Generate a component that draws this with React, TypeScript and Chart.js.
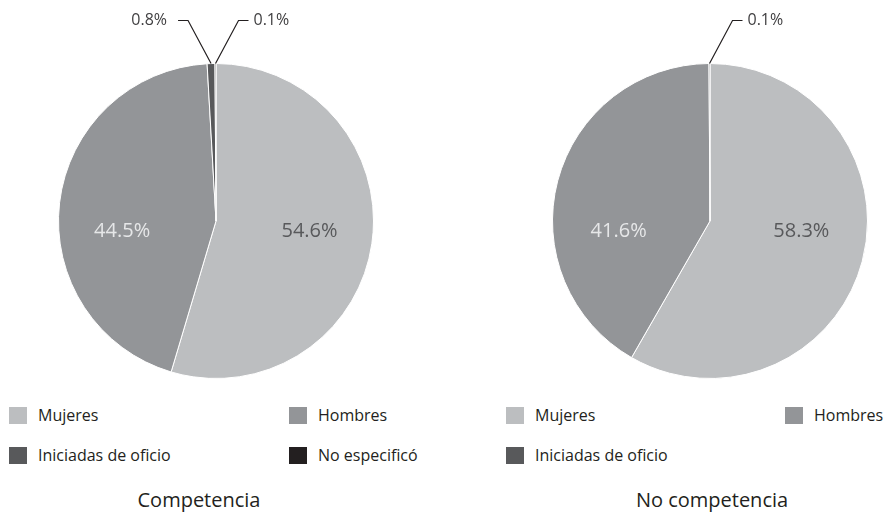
import React, { useEffect, useRef } from "react";
import { Chart, registerables } from "chart.js";

Chart.register(...registerables);

const categoriesLeft = ["Mujeres", "Hombres", "Iniciadas de oficio", "No especificó"];
const valuesLeft = [54.6, 44.5, 0.8, 0.1];
const categoriesRight = ["Mujeres", "Hombres", "Iniciadas de oficio"];
const valuesRight = [58.3, 41.6, 0.1];
const titles = ["Competencia", "No competencia"];

const sliceColors = ["#bcbec0", "#939598", "#58595b", "#231f20"];
const innerTextColors = ["#58595b", "#e6e7e8", "#ffffff", "#ffffff"];
const FONT = "'Open Sans', 'Noto Sans', sans-serif";

const labelPlugin = {
  id: "pieLabels",
  afterDatasetsDraw(chart: any, _args: any, opts: any) {
    const ctx = chart.ctx;
    const meta = chart.getDatasetMeta(0);
    const data = chart.data.datasets[0].data as number[];
    const sides: number[] = opts.sides || [];
    let smallIdx = 0;
    ctx.save();
    meta.data.forEach((arc: any, i: number) => {
      const { x, y, startAngle, endAngle, outerRadius } = arc.getProps(
        ["x", "y", "startAngle", "endAngle", "outerRadius"],
        true
      );
      const mid = (startAngle + endAngle) / 2;
      const v = data[i];
      const text = v.toFixed(1) + "%";
      if (v >= 5) {
        const lx = x + Math.cos(mid) * outerRadius * 0.6;
        ctx.font = `20px ${FONT}`;
        ctx.fillStyle = innerTextColors[i];
        ctx.textAlign = "center";
        ctx.textBaseline = "middle";
        ctx.fillText(text, lx, y + 10);
      } else {
        const side = sides[smallIdx++] ?? 1;
        const ax = x + Math.cos(mid) * outerRadius;
        const ay = y + Math.sin(mid) * outerRadius;
        const ex = ax + side * 23;
        const ey = y - outerRadius - 43;
        const hx = ex + side * 10;
        ctx.beginPath();
        ctx.moveTo(ax, ay);
        ctx.lineTo(ex, ey);
        ctx.lineTo(hx, ey);
        ctx.strokeStyle = "#231f20";
        ctx.lineWidth = 1.2;
        ctx.stroke();
        ctx.font = `16px ${FONT}`;
        ctx.fillStyle = "#414042";
        ctx.textBaseline = "middle";
        ctx.textAlign = side > 0 ? "left" : "right";
        ctx.fillText(text, hx + side * (side > 0 ? 5 : 11), ey);
      }
    });
    ctx.restore();
  },
};

type PieProps = {
  values: number[];
  labels: string[];
  padding: { left: number; right: number; top: number; bottom: number };
  sides: number[];
  left: number;
};

function PieChart({ values, labels, padding, sides, left }: PieProps) {
  const ref = useRef<HTMLCanvasElement>(null);
  useEffect(() => {
    const chart = new Chart(ref.current!, {
      type: "pie",
      data: {
        labels,
        datasets: [
          {
            data: values,
            backgroundColor: sliceColors.slice(0, values.length),
            borderColor: "#ffffff",
            borderWidth: 1,
          },
        ],
      },
      options: {
        responsive: false,
        animation: false,
        layout: { padding },
        plugins: {
          legend: { display: false },
          tooltip: { enabled: false },
          // @ts-ignore
          pieLabels: { sides },
        },
      },
      plugins: [labelPlugin as any],
    });
    return () => chart.destroy();
  }, []);
  return (
    <canvas
      ref={ref}
      width={444}
      height={400}
      style={{ position: "absolute", left, top: 0, width: 444, height: 400 }}
    />
  );
}

type LegendProps = { labels: string[]; cols: number[]; offsetX: number };

function Legend({ labels, cols, offsetX }: LegendProps) {
  const rows = [407, 447];
  return (
    <>
      {labels.map((lab, i) => {
        const col = i % 2;
        const row = Math.floor(i / 2);
        const sx = offsetX + cols[col];
        const sy = rows[row];
        return (
          <React.Fragment key={lab}>
            <div
              style={{
                position: "absolute",
                left: sx,
                top: sy,
                width: 18,
                height: 17,
                background: sliceColors[i],
              }}
            />
            <div
              style={{
                position: "absolute",
                left: sx + 29,
                top: sy - 2,
                lineHeight: "20px",
                fontSize: 16,
                fontFamily: FONT,
                color: "#231f20",
                whiteSpace: "nowrap",
              }}
            >
              {lab}
            </div>
          </React.Fragment>
        );
      })}
    </>
  );
}

function Title({ text, center }: { text: string; center: number }) {
  return (
    <div
      style={{
        position: "absolute",
        left: center - 150,
        width: 300,
        top: 488,
        lineHeight: "24px",
        textAlign: "center",
        fontSize: 20,
        fontFamily: FONT,
        color: "#231f20",
      }}
    >
      {text}
    </div>
  );
}

export default function App() {
  return (
    <div
      style={{
        position: "fixed",
        left: 0,
        top: 0,
        width: 888,
        height: 512,
        background: "#ffffff",
        overflow: "hidden",
      }}
    >
      <PieChart
        values={valuesLeft}
        labels={categoriesLeft}
        padding={{ left: 58, right: 70, top: 63, bottom: 21 }}
        sides={[-1, 1]}
        left={0}
      />
      <PieChart
        values={valuesRight}
        labels={categoriesRight}
        padding={{ left: 108, right: 20, top: 63, bottom: 21 }}
        sides={[1]}
        left={444}
      />
      <Legend labels={categoriesLeft} cols={[9, 289]} offsetX={0} />
      <Legend labels={categoriesRight} cols={[62, 341]} offsetX={444} />
      <Title text={titles[0]} center={199} />
      <Title text={titles[1]} center={712} />
    </div>
  );
}
